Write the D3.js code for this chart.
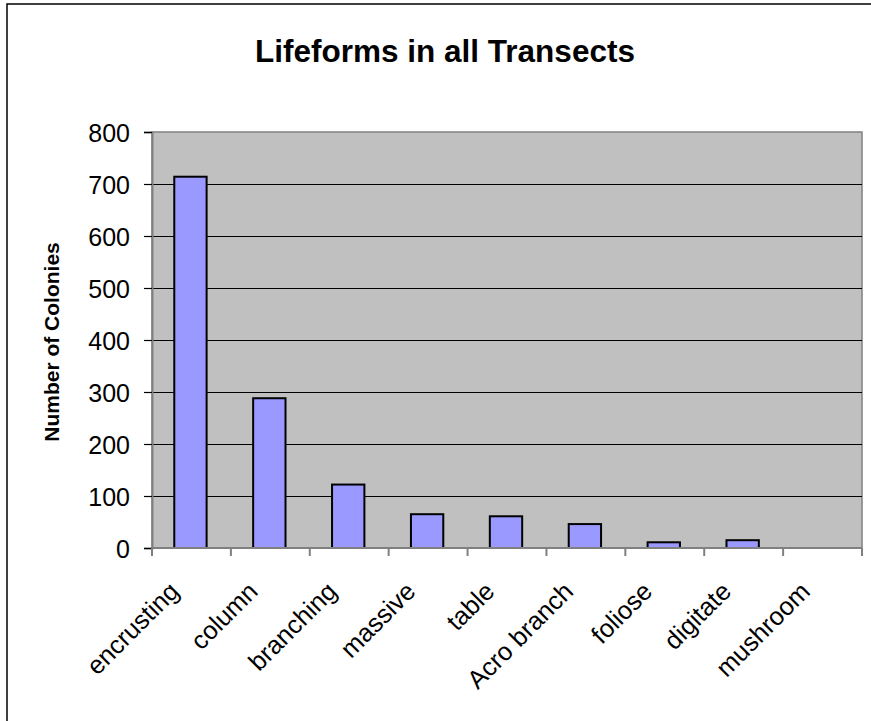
<!DOCTYPE html>
<html>
<head>
<meta charset="utf-8">
<script src="https://cdn.jsdelivr.net/npm/d3@7/dist/d3.min.js"></script>
<style>
html,body{margin:0;padding:0;background:#fff;}
svg{display:block;font-family:Arial,"Liberation Sans",sans-serif;}
</style>
</head>
<body>
<svg id="chart" width="871" height="721"></svg>
<script>
const categories = ["encrusting","column","branching","massive","table","Acro branch","foliose","digitate","mushroom"];
const values = [714, 288, 122, 65, 61, 46, 11, 15, 0];
const yTicks = [0,100,200,300,400,500,600,700,800];
const title = "Lifeforms in all Transects";
const yTitle = "Number of Colonies";

const svg = d3.select("#chart");
const W = 871, H = 721;
const m = {left:152, right:862, top:132, bottom:548};

// outer frame
svg.append("rect").attr("x",7).attr("y",4).attr("width",W+10).attr("height",H+10)
  .attr("fill","#fff").attr("stroke","#000").attr("stroke-width",1.5);

const x = d3.scaleBand().domain(categories).range([m.left,m.right]).paddingInner(0).paddingOuter(0);
const y = d3.scaleLinear().domain([0,800]).range([m.bottom,m.top]);

// plot area
svg.append("rect").attr("x",m.left).attr("y",m.top).attr("width",m.right-m.left).attr("height",m.bottom-m.top)
  .attr("fill","#c0c0c0").attr("stroke","#808080").attr("stroke-width",1.5);

// gridlines
svg.append("g").selectAll("line").data(yTicks.filter(d=>d>0 && d<800)).join("line")
  .attr("x1",m.left).attr("x2",m.right).attr("y1",d=>Math.round(y(d))+0.5).attr("y2",d=>Math.round(y(d))+0.5)
  .attr("stroke","#000").attr("stroke-width",1);

// bars
const bw = x.bandwidth()*0.41;
svg.append("g").selectAll("rect").data(values).join("rect")
  .attr("x",(d,i)=>x(categories[i])+x.bandwidth()/2-bw/2-1)
  .attr("y",d=>y(d))
  .attr("width",bw)
  .attr("height",d=>y(0)-y(d))
  .attr("fill","#9999ff").attr("stroke","#000").attr("stroke-width",2)
  .style("display",d=>d>0?null:"none");

// y axis
const yAxis = d3.axisLeft(y).tickValues(yTicks).tickSize(8).tickPadding(14).tickFormat(d3.format("d"));
const gy = svg.append("g").attr("transform",`translate(${m.left},0)`).call(yAxis);
gy.select(".domain").attr("stroke","#808080").attr("stroke-width",2);
gy.selectAll(".tick line").attr("stroke","#000").attr("stroke-width",1.2);
gy.selectAll(".tick text").attr("font-size",25).attr("fill","#000").attr("font-family","Arial,'Liberation Sans',sans-serif").attr("dy","0.36em");

// x axis
const xb = d3.scaleLinear().domain([0,categories.length]).range([m.left,m.right]);
const gx = svg.append("g");
gx.append("line").attr("x1",m.left).attr("x2",m.right).attr("y1",m.bottom).attr("y2",m.bottom)
  .attr("stroke","#808080").attr("stroke-width",2);
gx.selectAll("line.t").data(d3.range(categories.length+1)).join("line").attr("class","t")
  .attr("x1",d=>xb(d)).attr("x2",d=>xb(d)).attr("y1",m.bottom).attr("y2",m.bottom+8)
  .attr("stroke","#808080").attr("stroke-width",2);

gx.selectAll("text").data(categories).join("text")
  .attr("transform",d=>`translate(${x(d)+x.bandwidth()/2-11},593) rotate(-45)`)
  .attr("text-anchor","end")
  .attr("font-size",25.5).attr("fill","#000")
  .text(d=>d);

// title
svg.append("text").attr("x",445).attr("y",62).attr("text-anchor","middle")
  .attr("font-size",31.5).attr("font-weight","bold").attr("fill","#000").text(title);

// y title
svg.append("text").attr("transform",`translate(52,${342}) rotate(-90)`)
  .attr("text-anchor","middle").attr("dy","0.35em")
  .attr("font-size",21).attr("font-weight","bold").attr("fill","#000").text(yTitle);
</script>
</body>
</html>
